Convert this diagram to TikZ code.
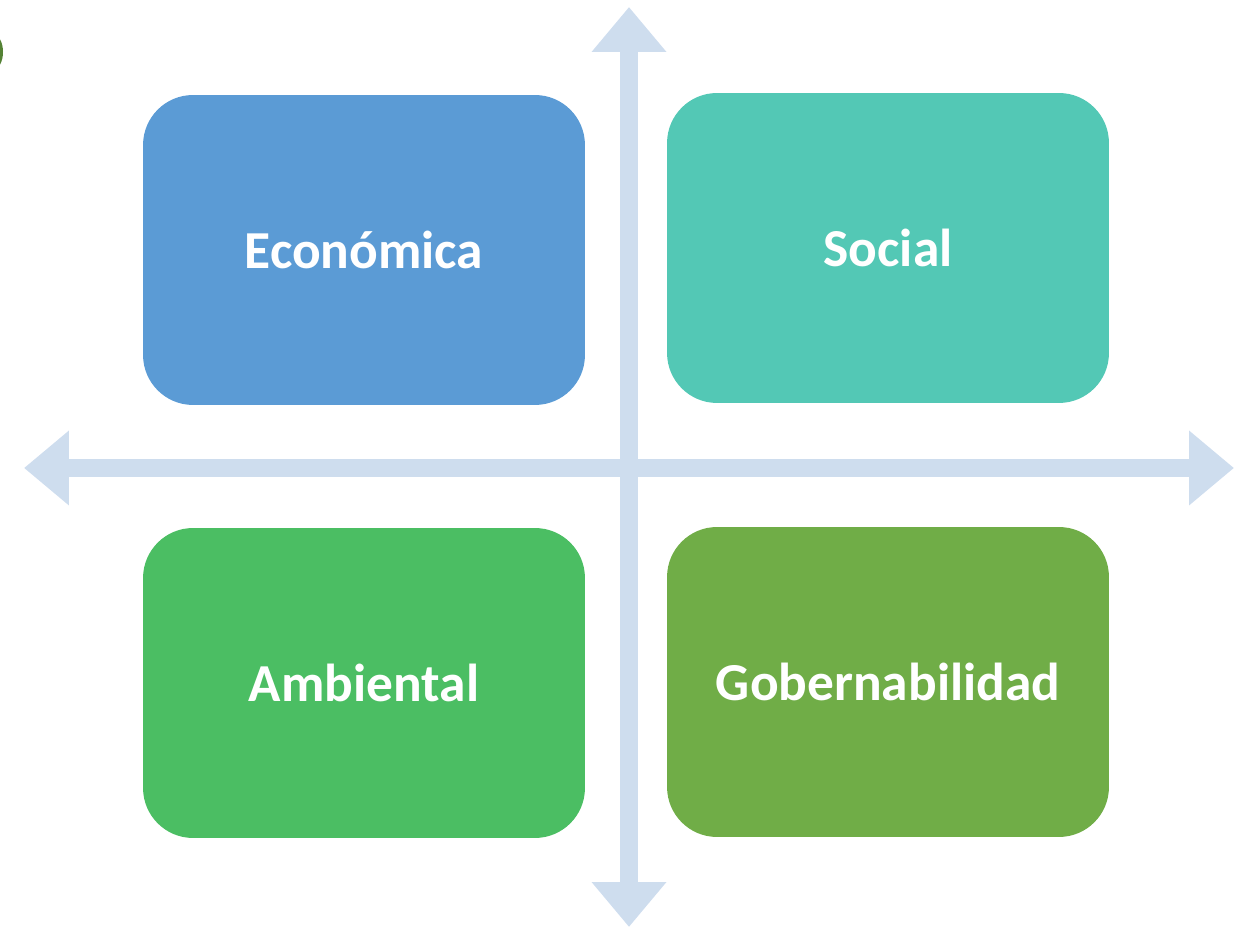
\documentclass[tikz,border=0pt]{standalone}
\usepackage{fontspec}
\setmainfont{Carlito}
\usetikzlibrary{arrows.meta}

\definecolor{axisblue}{HTML}{CEDDEE}
\definecolor{econblue}{HTML}{5B9BD5}
\definecolor{socteal}{HTML}{53C8B5}
\definecolor{ambgreen}{HTML}{4BBE63}
\definecolor{gobgreen}{HTML}{70AD47}
\definecolor{edgegreen}{HTML}{548235}

\tikzset{
    area/.style={rounded corners=1cm, minimum width=8.84cm, minimum height=6.2cm,
        text=white, font=\fontsize{30.4}{36}\selectfont\bfseries, inner sep=0pt},
    axis/.style={draw=axisblue, line width=0.36cm,
        {Triangle[width=1.44cm,length=0.9cm]}-{Triangle[width=1.44cm,length=0.9cm]}}
}

\begin{document}
\begin{tikzpicture}[x=0.02cm, y=-0.02cm]
            % Define parameters
            \def\cx{629}  % X-position of crossing
            \def\cy{468}  % Y-position of crossing

            \useasboundingbox (0,0) rectangle (1238,928);

            % Small green mark at the left edge
            \fill[edgegreen] (-6,52) ellipse (9 and 17);

            % Axes
            \coordinate (top) at (\cx,7);
            \coordinate (bottom) at (\cx,927);
            \coordinate (left) at (24,\cy);
            \coordinate (right) at (1234,\cy);
            \draw[axis] (top) -- (bottom);
            \draw[axis] (left) -- (right);

            % Quadrants
            \node[area, fill=econblue] (econ) at (364,250) {Económica};
            \node[area, fill=socteal] (soc) at (888,248) {Social};
            \node[area, fill=ambgreen] (amb) at (364,683) {Ambiental};
            \node[area, fill=gobgreen] (gob) at (888,682) {Gobernabilidad};

\end{tikzpicture}
\end{document}
